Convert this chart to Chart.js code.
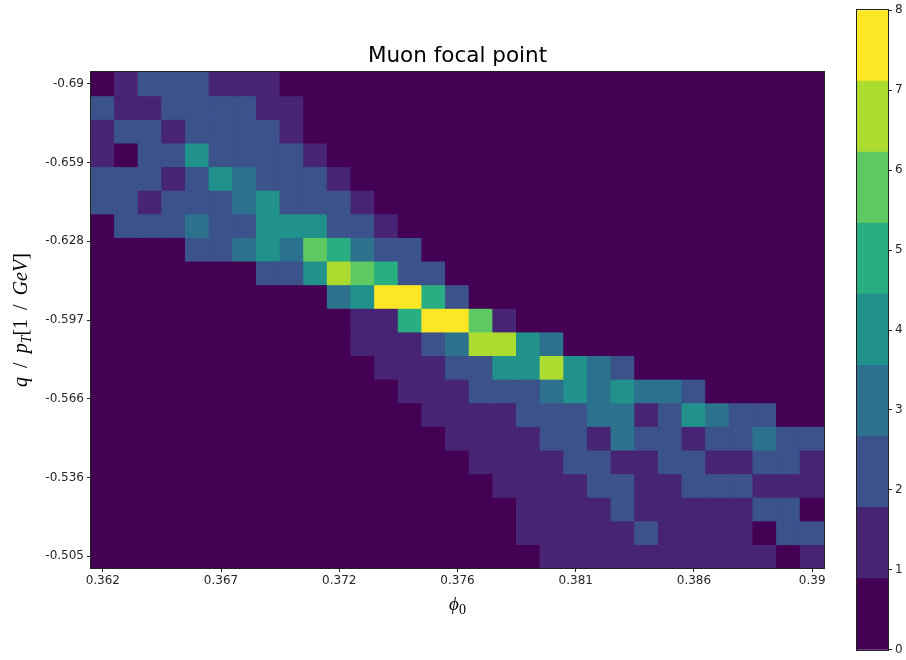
<!DOCTYPE html>
<html><head><meta charset="utf-8">
<script src="https://cdn.jsdelivr.net/npm/chart.js@4.4.1/dist/chart.umd.min.js"></script>
<style>
html,body{margin:0;padding:0;background:#fff;}
#wrap{position:relative;width:906px;height:660px;overflow:hidden;}
#main{position:absolute;left:0;top:0;}
#cbar{position:absolute;left:820px;top:0;}
</style></head><body>
<div id="wrap">
<canvas id="main" width="840" height="660"></canvas>
<canvas id="cbar" width="86" height="660"></canvas>
</div>
<script>
// ---------- data ----------
const chartTitle = 'Muon focal point';
const xTickLabels = ['0.362','0.367','0.372','0.376','0.381','0.386','0.39'];
const yTickLabels = ['-0.69','-0.659','-0.628','-0.597','-0.566','-0.536','-0.505'];
const colorbarTicks = [0,1,2,3,4,5,6,7,8];
const viridis9 = ['#440154','#482475','#3b528b','#2c728e','#21918c','#28ae80','#5ec962','#addc30','#fde725'];
// counts[row][col], row 0 = top (q/pT = -0.69), col 0 = left (phi0 = 0.362)
const row00 = [0,1,2,2,2,1,1,1,0,0,0,0,0,0,0,0,0,0,0,0,0,0,0,0,0,0,0,0,0,0,0];
const row01 = [2,1,1,2,2,2,2,1,1,0,0,0,0,0,0,0,0,0,0,0,0,0,0,0,0,0,0,0,0,0,0];
const row02 = [1,2,2,1,2,2,2,2,1,0,0,0,0,0,0,0,0,0,0,0,0,0,0,0,0,0,0,0,0,0,0];
const row03 = [1,0,2,2,4,2,2,2,2,1,0,0,0,0,0,0,0,0,0,0,0,0,0,0,0,0,0,0,0,0,0];
const row04 = [2,2,2,1,2,4,3,2,2,2,1,0,0,0,0,0,0,0,0,0,0,0,0,0,0,0,0,0,0,0,0];
const row05 = [2,2,1,2,2,2,3,4,2,2,2,1,0,0,0,0,0,0,0,0,0,0,0,0,0,0,0,0,0,0,0];
const row06 = [0,2,2,2,3,2,2,4,4,4,2,2,1,0,0,0,0,0,0,0,0,0,0,0,0,0,0,0,0,0,0];
const row07 = [0,0,0,0,2,2,3,4,3,6,5,3,2,2,0,0,0,0,0,0,0,0,0,0,0,0,0,0,0,0,0];
const row08 = [0,0,0,0,0,0,0,2,2,4,7,6,5,2,2,0,0,0,0,0,0,0,0,0,0,0,0,0,0,0,0];
const row09 = [0,0,0,0,0,0,0,0,0,0,3,4,8,8,5,2,0,0,0,0,0,0,0,0,0,0,0,0,0,0,0];
const row10 = [0,0,0,0,0,0,0,0,0,0,0,1,1,5,8,8,6,1,0,0,0,0,0,0,0,0,0,0,0,0,0];
const row11 = [0,0,0,0,0,0,0,0,0,0,0,1,1,1,2,3,7,7,4,3,0,0,0,0,0,0,0,0,0,0,0];
const row12 = [0,0,0,0,0,0,0,0,0,0,0,0,1,1,1,2,2,4,4,7,4,3,2,0,0,0,0,0,0,0,0];
const row13 = [0,0,0,0,0,0,0,0,0,0,0,0,0,1,1,1,2,2,2,3,4,3,4,3,3,2,0,0,0,0,0];
const row14 = [0,0,0,0,0,0,0,0,0,0,0,0,0,0,1,1,1,1,2,2,2,3,3,1,2,4,3,2,2,0,0];
const row15 = [0,0,0,0,0,0,0,0,0,0,0,0,0,0,0,1,1,1,1,2,2,1,3,2,2,1,2,2,3,2,2];
const row16 = [0,0,0,0,0,0,0,0,0,0,0,0,0,0,0,0,1,1,1,1,2,2,1,1,2,2,1,1,2,2,1];
const row17 = [0,0,0,0,0,0,0,0,0,0,0,0,0,0,0,0,0,1,1,1,1,2,2,1,1,2,2,2,1,1,1];
const row18 = [0,0,0,0,0,0,0,0,0,0,0,0,0,0,0,0,0,0,1,1,1,1,2,1,1,1,1,1,2,2,0];
const row19 = [0,0,0,0,0,0,0,0,0,0,0,0,0,0,0,0,0,0,1,1,1,1,1,2,1,1,1,1,0,2,2];
const row20 = [0,0,0,0,0,0,0,0,0,0,0,0,0,0,0,0,0,0,0,1,1,1,1,1,1,1,1,1,1,0,1];
const counts = [row00,row01,row02,row03,row04,row05,row06,row07,row08,row09,row10,
                row11,row12,row13,row14,row15,row16,row17,row18,row19,row20];

// ---------- helpers ----------
const nRows = counts.length, nCols = counts[0].length;
const nLevels = viridis9.length;
const vmax = colorbarTicks[colorbarTicks.length - 1];
const tickFont = {family: 'DejaVu Sans', size: 12};
const tickColor = '#262626';
const mathFamily = 'Liberation Serif';

// runs: {t, italic, sub} or {gap: em}
function drawRuns(ctx, runs, size, cx, cy) {
  const fontOf = r => (r.italic ? 'italic ' : '') + Math.round(r.sub ? size * 0.72 : size) + 'px "' + mathFamily + '"';
  let total = 0;
  runs.forEach(r => {
    if (r.gap) { r.w = r.gap * size; }
    else { ctx.font = fontOf(r); r.w = ctx.measureText(r.t).width; }
    total += r.w;
  });
  let x = cx - total / 2;
  ctx.textBaseline = 'alphabetic';
  ctx.textAlign = 'left';
  runs.forEach(r => {
    if (!r.gap) {
      ctx.font = fontOf(r);
      ctx.fillText(r.t, x, cy + (r.sub ? size * 0.22 : 0));
    }
    x += r.w;
  });
}

const framePlugin = {
  id: 'frame',
  afterDatasetsDraw(chart) {
    const a = chart.chartArea, ctx = chart.ctx;
    ctx.save();
    ctx.strokeStyle = '#222';
    ctx.lineWidth = 1;
    ctx.strokeRect(Math.round(a.left) - 0.5, Math.round(a.top) - 0.5, Math.round(a.right - a.left) + 1, Math.round(a.bottom - a.top) + 1);
    ctx.restore();
  }
};

const axisTitlesPlugin = {
  id: 'axisTitles',
  afterDraw(chart) {
    const a = chart.chartArea, ctx = chart.ctx;
    ctx.save();
    ctx.fillStyle = '#000';
    // x title: phi_0
    drawRuns(ctx, [{t: '\u03D5', italic: true}, {t: '0', sub: true}], 19, (a.left + a.right) / 2, a.bottom + 42);
    // y title: q / p_T [1 / GeV]
    ctx.translate(27, (a.top + a.bottom) / 2);
    ctx.rotate(-Math.PI / 2);
    drawRuns(ctx, [
      {t: 'q', italic: true}, {gap: 0.45}, {t: '/'}, {gap: 0.45}, {t: 'p', italic: true}, {t: 'T', italic: true, sub: true},
      {t: '[1'}, {gap: 0.45}, {t: '/'}, {gap: 0.45}, {t: 'GeV', italic: true}, {t: ']'}
    ], 20, 0, 0);
    ctx.restore();
  }
};

// ---------- main heatmap ----------
const datasets = counts.map((row, r) => ({
  data: row.map((v, c) => ({x: c, y: [r, r + 1]})),
  backgroundColor: row.map(v => viridis9[v]),
  borderWidth: 0,
  inflateAmount: 0.6,
  grouped: false,
  barPercentage: 1,
  categoryPercentage: 1
}));

new Chart(document.getElementById('main'), {
  type: 'bar',
  data: {datasets},
  options: {
    responsive: false,
    devicePixelRatio: 1,
    animation: false,
    layout: {padding: {left: 0, right: 16, top: 0, bottom: 0}},
    plugins: {
      legend: {display: false},
      tooltip: {enabled: false},
      title: {
        display: true, text: chartTitle, fullSize: false,
        font: {family: 'DejaVu Sans', size: 21.5, weight: 'normal'}, color: '#000',
        padding: {top: 44, bottom: 2.2}
      }
    },
    scales: {
      x: {
        type: 'linear', min: -0.5, max: nCols - 0.5, offset: false,
        afterBuildTicks: s => { s.ticks = xTickLabels.map((_, i) => ({value: i * (nCols - 1) / (xTickLabels.length - 1)})); },
        afterFit: s => { s.height = 92; },
        ticks: {autoSkip: false, maxRotation: 0, font: tickFont, color: tickColor, padding: 2,
                callback: (v, i) => xTickLabels[i]},
        grid: {offset: false, drawOnChartArea: false, drawTicks: true, tickLength: 4, color: '#222', lineWidth: 1},
        border: {display: false}
      },
      y: {
        type: 'linear', min: 0, max: nRows, reverse: true, offset: false,
        afterBuildTicks: s => { s.ticks = yTickLabels.map((_, i) => ({value: 0.5 + i * (nRows - 1) / (yTickLabels.length - 1)})); },
        afterFit: s => { s.width = 91; },
        ticks: {autoSkip: false, font: tickFont, color: tickColor, padding: 3,
                callback: (v, i) => yTickLabels[i]},
        grid: {offset: false, drawOnChartArea: false, drawTicks: true, tickLength: 4, color: '#222', lineWidth: 1},
        border: {display: false}
      }
    }
  },
  plugins: [framePlugin, axisTitlesPlugin]
});

// ---------- colorbar ----------
const cbDatasets = viridis9.map((col, i) => ({
  data: [[i * vmax / nLevels, (i + 1) * vmax / nLevels]],
  backgroundColor: col,
  borderWidth: 0,
  inflateAmount: 0.6,
  grouped: false,
  barPercentage: 1,
  categoryPercentage: 1
}));

new Chart(document.getElementById('cbar'), {
  type: 'bar',
  data: {labels: [''], datasets: cbDatasets},
  options: {
    responsive: false,
    devicePixelRatio: 1,
    animation: false,
    layout: {padding: {left: 37, right: 0, top: 8, bottom: 8}},
    plugins: {legend: {display: false}, tooltip: {enabled: false}, title: {display: false}},
    scales: {
      x: {display: false},
      y: {
        type: 'linear', position: 'right', min: 0, max: vmax,
        afterBuildTicks: s => { s.ticks = colorbarTicks.map(v => ({value: v})); },
        afterFit: s => { s.width = 18; },
        ticks: {autoSkip: false, font: tickFont, color: tickColor, padding: 3,
                callback: (v, i) => String(colorbarTicks[i])},
        grid: {drawOnChartArea: false, drawTicks: true, tickLength: 4, color: '#222', lineWidth: 1},
        border: {display: false}
      }
    }
  },
  plugins: [framePlugin]
});
</script>
</body></html>
